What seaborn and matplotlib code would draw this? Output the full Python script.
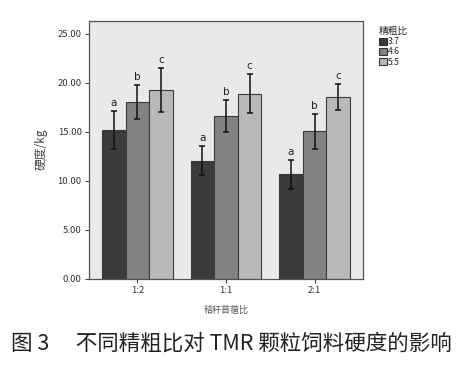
import numpy as np
import pandas as pd
import matplotlib
matplotlib.use('Agg')
import matplotlib.pyplot as plt
import seaborn as sns

# 秸秆苜蓿比 x 精粗比
ratios = ['1:2', '1:1', '2:1']
groups = ['3:7', '4:6', '5:5']
means = {
    '3:7': [15.15, 12.05, 10.65],
    '4:6': [18.05, 16.60, 15.05],
    '5:5': [19.25, 18.90, 18.55],
}
errs = {
    '3:7': [1.95, 1.50, 1.50],
    '4:6': [1.70, 1.60, 1.80],
    '5:5': [2.25, 1.98, 1.30],
}
letters = {'3:7': 'a', '4:6': 'b', '5:5': 'c'}
colors = ['#3b3b3d', '#828282', '#b9b9b9']

rows = []
for g in groups:
    for r, m, e in zip(ratios, means[g], errs[g]):
        rows.append({'秸秆苜蓿比': r, '精粗比': g, 'hardness': m, 'err': e})
data = pd.DataFrame(rows)

sns.set_style('ticks')
plt.rcParams['font.family'] = ['Noto Sans CJK SC', 'DejaVu Sans']

fig = plt.figure(figsize=(4.63, 3.68), dpi=100)
ax = fig.add_axes([0.1915, 0.243, 0.593, 0.701])

sns.barplot(data=data, x='秸秆苜蓿比', y='hardness', hue='精粗比',
            order=ratios, hue_order=groups, palette=colors,
            errorbar=None, width=0.8, edgecolor='#3a3a3a', linewidth=0.8, ax=ax)

# error bars and significance letters from the drawn bars
for cont, g in zip(ax.containers, groups):
    for patch, m, e in zip(cont.patches, means[g], errs[g]):
        xc = patch.get_x() + patch.get_width() / 2
        ax.errorbar(xc, m, yerr=e, fmt='none', ecolor='#111111',
                    elinewidth=1.1, capsize=2.5, capthick=1.1)
        ax.text(xc, m + e + 0.3, letters[g], ha='center', va='bottom',
                fontsize=7.5, color='#222222', family='DejaVu Sans')

ax.set_facecolor('#e9e9e9')
ax.set_xlim(-0.55, 2.55)
ax.set_ylim(0, 26.35)
ax.set_yticks(np.arange(0, 26, 5))
ax.set_yticklabels([f'{v:.2f}' for v in np.arange(0, 26, 5)])
for s in ax.spines.values():
    s.set_color('#555555')
    s.set_linewidth(0.9)
ax.tick_params(axis='both', labelsize=6.8, colors='#333333', length=3, width=0.7, pad=2)
ax.set_xlabel('秸秆苜蓿比', fontsize=6.5, color='#555555', labelpad=8)
ax.set_ylabel('硬度/kg', fontsize=8.5, color='#444444', labelpad=7)

leg = ax.legend(title='精粗比', loc='upper left', bbox_to_anchor=(1.03, 1.01),
                frameon=False, fontsize=6.2, title_fontsize=7,
                handlelength=0.9, handleheight=0.9, handletextpad=0.1,
                labelspacing=0.15)
leg._legend_box.align = 'left'
for h in leg.legend_handles:
    h.set_edgecolor('#333333')

fig.text(0.5, 0.067, '图 3　 不同精粗比对 TMR 颗粒饲料硬度的影响',
         ha='center', va='center', fontsize=15.5, color='#222222')

fig.savefig('out.png', dpi=100, facecolor='white')
